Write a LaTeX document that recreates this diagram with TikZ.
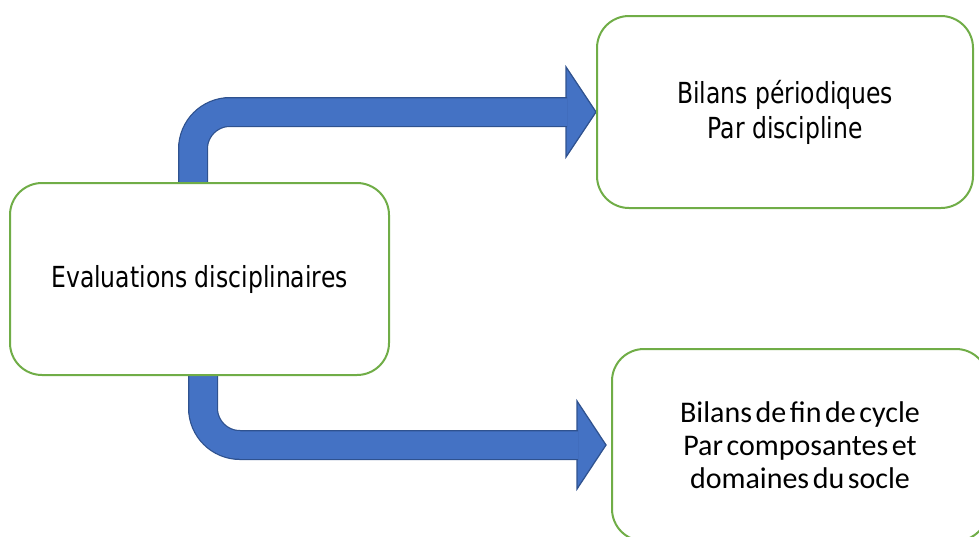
\documentclass[tikz,border=0pt]{standalone}
\usepackage{fontspec}
\setmainfont{Carlito}
\newfontfamily\tahomafont[FakeStretch=0.81]{DejaVu Sans}
\usetikzlibrary{calc,backgrounds}
\definecolor{boxgreen}{HTML}{70AD47}
\definecolor{arrowblue}{HTML}{4472C4}
\definecolor{arrowedge}{HTML}{2F528F}
\newcommand{\tightwords}{\spaceskip=0.12em\relax}
\tikzset{
  bilan/.style={draw=boxgreen, line width=2pt, fill=white, rounded corners=32pt,
    minimum width=376pt, minimum height=192pt, align=center, inner sep=0pt},
  shaft/.style={draw=arrowedge, line width=1.25pt, double=arrowblue,
    double distance=27.5pt, rounded corners=37pt},
  head/.style={fill=arrowblue, draw=arrowedge, line width=1.25pt, line join=miter}
}
\begin{document}
\begin{tikzpicture}[x=1pt,y=-1pt]
	\useasboundingbox (0,0) rectangle (979,536);
	\clip (0,0) rectangle (979,536);
	% les trois cadres
	\node[bilan, minimum width=379pt, font=\tahomafont\fontsize{29}{35}\selectfont] (eval) at (199.5,279) {Evaluations disciplinaires};
	\node[bilan, font=\tahomafont\fontsize{29}{35}\selectfont] (per) at (785,112) {Bilans périodiques\\ Par discipline};
	\node[bilan, font=\fontsize{30}{33}\selectfont\tightwords] (cycle) at (800,445) {Bilans de fin de cycle\\ Par composantes et\\ domaines du socle};
	% fleches
	\begin{pgfonlayer}{background}
		\coordinate (tipA) at (per.west);
		\coordinate (tipB) at ([xshift=-5]cycle.west);
		\draw[head] (tipA) -- ++(-30,-45) -- ++(0,90) -- cycle;
		\draw[shaft] ([xshift=-6.5]eval.north) |- ($(tipA)+(-29,0)$);
		\draw[head] (tipB) -- ++(-29,-44) -- ++(0,88) -- cycle;
		\draw[shaft] ([xshift=3.5]eval.south) |- ($(tipB)+(-28,0)$);
	\end{pgfonlayer}
\end{tikzpicture}
\end{document}
